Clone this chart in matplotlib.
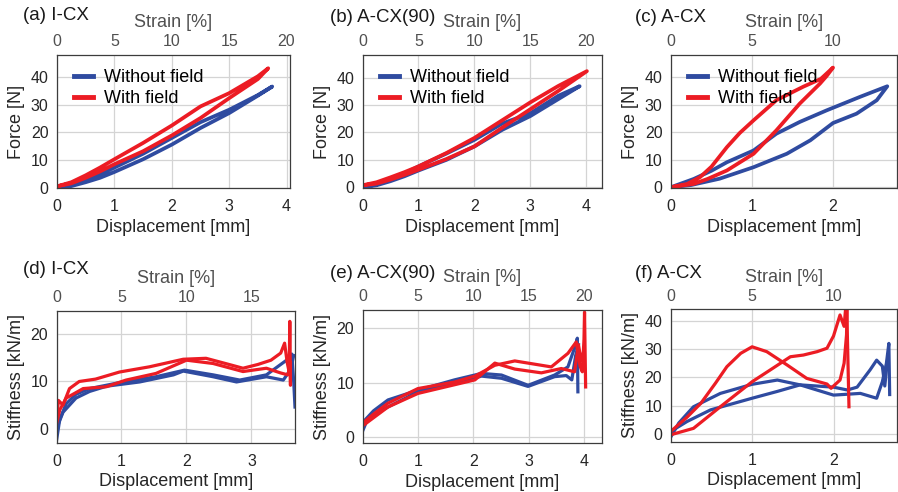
import matplotlib
matplotlib.use("Agg")
from matplotlib import pyplot as plt
import numpy as np

plt.rcParams['font.family'] = ['Liberation Sans', 'DejaVu Sans']

BLUE = '#2f4ba0'
RED = '#ec1c24'

# ---- (a) I-CX force ----
a_blue_load_x = [0, 0.25, 0.5, 0.75, 1.0, 1.5, 2.0, 2.5, 3.0, 3.5, 3.75]
a_blue_load_y = [0, 1.0, 2.8, 4.9, 7.3, 12.3, 18.0, 23.7, 28.2, 33.5, 36.6]
a_blue_unld_x = [3.75, 3.5, 3.0, 2.5, 2.0, 1.5, 1.0, 0.75, 0.5, 0.25, 0]
a_blue_unld_y = [36.6, 33.3, 27.0, 21.6, 15.6, 10.3, 5.7, 3.6, 2.0, 0.6, 0]
a_red_load_x = [0, 0.25, 0.5, 0.75, 1.0, 1.5, 2.0, 2.5, 3.0, 3.5, 3.68]
a_red_load_y = [0.5, 2.0, 4.5, 7.3, 10.3, 16.2, 22.5, 29.4, 34.2, 40.3, 43.2]
a_red_unld_x = [3.68, 3.5, 3.0, 2.5, 2.0, 1.5, 1.0, 0.75, 0.5, 0.25, 0]
a_red_unld_y = [43.2, 39.3, 32.4, 25.2, 18.9, 13.2, 8.5, 5.9, 3.6, 1.6, 0.5]

# ---- (b) A-CX(90) force ----
b_blue_load_x = [0, 0.25, 0.5, 0.75, 1.0, 1.5, 2.0, 2.5, 3.0, 3.5, 3.88]
b_blue_load_y = [0, 1.0, 2.8, 5.0, 7.6, 12.3, 17.3, 23.3, 27.0, 33.4, 36.9]
b_blue_unld_x = [3.88, 3.5, 3.0, 2.5, 2.0, 1.5, 1.0, 0.75, 0.5, 0.25, 0]
b_blue_unld_y = [36.9, 32.2, 26.0, 21.0, 14.9, 10.0, 6.1, 4.0, 2.2, 0.7, 0]
b_red_load_x = [0, 0.25, 0.5, 0.75, 1.0, 1.5, 2.0, 2.5, 3.0, 3.5, 4.01]
b_red_load_y = [0.7, 1.8, 3.6, 5.5, 7.6, 12.5, 18.0, 24.5, 31.0, 37.0, 42.4]
b_red_unld_x = [4.01, 3.5, 3.0, 2.5, 2.0, 1.5, 1.0, 0.75, 0.5, 0.25, 0]
b_red_unld_y = [42.4, 35.2, 28.5, 21.8, 14.9, 10.3, 6.4, 4.5, 2.8, 1.3, 0.7]

# ---- (c) A-CX force ----
c_blue_load_x = [0, 0.28, 0.5, 0.69, 1.02, 1.3, 1.59, 1.92, 2.33, 2.67]
c_blue_load_y = [0, 3.0, 6.0, 9.1, 13.4, 19.5, 23.8, 28.0, 32.9, 36.8]
c_blue_unld_x = [2.67, 2.54, 2.29, 2.0, 1.72, 1.43, 1.02, 0.6, 0.25, 0]
c_blue_unld_y = [36.8, 31.7, 26.8, 23.4, 17.1, 12.2, 7.3, 3.1, 0.8, 0]
c_red_load_x = [0, 0.2, 0.36, 0.5, 0.69, 0.85, 1.02, 1.3, 1.63, 1.85, 2.0]
c_red_load_y = [0, 1.2, 3.7, 7.5, 14.6, 19.8, 24.4, 31.7, 36.6, 39.5, 43.6]
c_red_unld_x = [2.0, 1.92, 1.84, 1.59, 1.3, 1.02, 0.69, 0.45, 0.28, 0]
c_red_unld_y = [43.6, 40.5, 37.8, 30.5, 20.7, 12.2, 6.1, 3.0, 1.2, 0]

# ---- (d) I-CX stiffness ----
d_red1_x = [0, 0.03, 0.1, 0.2, 0.35, 0.6, 0.97, 1.43, 1.95, 2.3, 2.6, 2.87, 3.1, 3.3, 3.45, 3.51, 3.55, 3.58, 3.59, 3.6, 3.6]
d_red1_y = [2, 6, 5, 8.5, 10, 10.5, 12, 13.1, 14.7, 14.9, 13.8, 12.8, 13.6, 14.5, 16, 18.1, 14, 12, 22.7, 9.2, 14]
d_red2_x = [0, 0.05, 0.15, 0.41, 0.77, 1.07, 1.53, 2.0, 2.41, 2.87, 3.23, 3.45, 3.56, 3.59]
d_red2_y = [1, 4, 6.5, 8.5, 8.9, 10.3, 11.7, 14.5, 13.8, 12.1, 12.8, 11.8, 11.4, 13]
d_blue1_x = [0, 0.05, 0.15, 0.3, 0.51, 1.02, 1.53, 1.97, 2.41, 2.82, 3.23, 3.54, 3.62, 3.65, 3.67]
d_blue1_y = [-2.5, 2, 5.3, 7.3, 8.5, 9.9, 11.0, 12.4, 11.4, 10.3, 11.4, 14.5, 15.8, 10, 4.6]
d_blue2_x = [0, 0.1, 0.3, 0.51, 0.77, 1.28, 1.8, 1.95, 2.41, 2.77, 3.23, 3.49, 3.6, 3.65]
d_blue2_y = [0, 3.5, 6.5, 7.9, 9.0, 9.9, 11.4, 12.2, 11.0, 9.9, 11.0, 10.3, 12.5, 15.5]

# ---- (e) A-CX(90) stiffness ----
e_red1_x = [0, 0.2, 0.46, 1.0, 1.66, 2.03, 2.39, 2.75, 3.05, 3.41, 3.71, 3.86, 3.93, 3.97, 4.0, 4.01, 4.03]
e_red1_y = [2.5, 4.2, 6.2, 8.9, 10.1, 11.2, 13.2, 14.0, 13.5, 12.9, 15.4, 17.5, 13, 12, 18, 23, 9.2]
e_red2_x = [0, 0.46, 1.0, 1.66, 2.03, 2.39, 2.75, 3.23, 3.59, 3.83, 3.9, 3.95, 4.0]
e_red2_y = [2.0, 5.5, 8.0, 9.6, 10.5, 13.6, 12.5, 11.8, 12.6, 12.0, 17, 14, 16]
e_blue1_x = [0, 0.2, 0.46, 1.0, 1.66, 2.15, 2.51, 2.99, 3.47, 3.71, 3.85, 3.88, 3.89]
e_blue1_y = [2.6, 4.8, 6.8, 8.6, 10.5, 11.7, 11.4, 9.5, 11.4, 12.9, 17, 18.2, 8.3]
e_blue2_x = [0, 0.1, 0.46, 1.0, 1.66, 2.15, 2.51, 2.99, 3.47, 3.68, 3.78, 3.85, 3.9]
e_blue2_y = [1.0, 3.5, 5.5, 8.3, 9.8, 11.2, 10.8, 9.3, 11.1, 11.3, 10.5, 15, 17]

# ---- (f) A-CX stiffness ----
f_red1_x = [0.02, 0.2, 0.37, 0.55, 0.69, 0.86, 1.0, 1.18, 1.43, 1.67, 1.92, 1.97, 2.08, 2.13, 2.16, 2.17]
f_red1_y = [1.5, 6, 10.9, 18, 23.8, 28.5, 30.8, 29.1, 24.4, 19.7, 17.7, 16.2, 19.1, 25, 35, 48]
f_red2_x = [0.02, 0.28, 0.61, 1.0, 1.22, 1.47, 1.63, 1.8, 1.92, 2.0, 2.08, 2.13, 2.16, 2.19]
f_red2_y = [0, 2.1, 9.7, 18.5, 22.6, 27.3, 27.9, 29.1, 30.3, 34.6, 42, 38, 48, 9.7]
f_blue1_x = [0.0, 0.1, 0.28, 0.61, 1.0, 1.31, 1.59, 2.0, 2.33, 2.53, 2.6, 2.65, 2.68, 2.69]
f_blue1_y = [-1, 4, 9.7, 14.4, 17.6, 19.1, 17.4, 13.8, 14.4, 12.7, 18.5, 25, 32, 14]
f_blue2_x = [0.0, 0.2, 0.49, 1.0, 1.31, 1.59, 2.0, 2.17, 2.29, 2.45, 2.53, 2.6, 2.63, 2.67]
f_blue2_y = [1, 4.5, 8.6, 12.7, 15.1, 17.4, 16.6, 15.6, 16.6, 22.7, 26.1, 24, 17, 28]

W, H = 898, 492


def make_ax(fig, left, top, right, bottom):
    # pixel box -> figure fraction
    return fig.add_axes([left / W, 1 - bottom / H, (right - left) / W, (bottom - top) / H])


def style(ax, xlim, ylim, yticks, ylabel, title, title_xy):
    ax.set_xlim(*xlim)
    ax.set_ylim(*ylim)
    ax.set_xticks(np.arange(0, int(xlim[1]) + 1))
    ax.set_yticks(yticks)
    ax.grid(True, color='#d4d4d4', lw=0.9)
    ax.set_axisbelow(True)
    for s in ax.spines.values():
        s.set_color('#3c3c3c')
        s.set_linewidth(0.9)
    ax.tick_params(length=0, labelsize=11.5, colors='#262626', pad=6)
    ax.tick_params(axis='x', pad=8)
    ax.set_xlabel('Displacement [mm]', fontsize=13, color='#262626', labelpad=3)
    ax.set_ylabel(ylabel, fontsize=13, color='#262626', labelpad=4)
    sec = ax.secondary_xaxis('top', functions=(lambda d: d * 5, lambda s: s / 5))
    sec.set_xticks(np.arange(0, xlim[1] * 5 + 0.01, 5))
    sec.tick_params(length=0, labelsize=11.5, colors='#505050', pad=4)
    sec.spines['top'].set_visible(False)
    sec.set_xlabel('Strain [%]', fontsize=13, color='#505050', labelpad=5)
    ax.figure.text(title_xy[0] / W, 1 - title_xy[1] / H, title, fontsize=13.5,
                   color='#1a1a1a', ha='left', va='center')


def loop(ax, lx, ly, ux, uy, color, label):
    ax.plot(lx + ux, ly + uy, color=color, lw=2.7, label=label, solid_joinstyle='round')


fig = plt.figure(figsize=(8.98, 4.92), dpi=100)

ax_a = make_ax(fig, 57, 55, 290, 188.3)
loop(ax_a, a_blue_load_x, a_blue_load_y, a_blue_unld_x, a_blue_unld_y, BLUE, 'Without field')
loop(ax_a, a_red_load_x, a_red_load_y, a_red_unld_x, a_red_unld_y, RED, 'With field')
style(ax_a, (0, 4.06), (-0.2, 48), [0, 10, 20, 30, 40], 'Force [N]', '(a) I-CX', (23, 16))

ax_b = make_ax(fig, 362.5, 55, 602, 188.3)
loop(ax_b, b_blue_load_x, b_blue_load_y, b_blue_unld_x, b_blue_unld_y, BLUE, 'Without field')
loop(ax_b, b_red_load_x, b_red_load_y, b_red_unld_x, b_red_unld_y, RED, 'With field')
style(ax_b, (0, 4.28), (-0.4, 48.3), [0, 10, 20, 30, 40], 'Force [N]', '(b) A-CX(90)', (330, 17))

ax_c = make_ax(fig, 671, 55, 897, 188.3)
loop(ax_c, c_blue_load_x, c_blue_load_y, c_blue_unld_x, c_blue_unld_y, BLUE, 'Without field')
loop(ax_c, c_red_load_x, c_red_load_y, c_red_unld_x, c_red_unld_y, RED, 'With field')
style(ax_c, (0, 2.79), (-0.4, 48.2), [0, 10, 20, 30, 40], 'Force [N]', '(c) A-CX', (635, 17))

for ax in (ax_a, ax_b, ax_c):
    ax.legend(loc='upper left', frameon=False, fontsize=13, handlelength=1.05,
              handletextpad=0.6, labelspacing=0.25, borderaxespad=0.3,
              bbox_to_anchor=(0.02, 0.99))
    for ln in ax.get_legend().get_lines():
        ln.set_linewidth(3.5)

ax_d = make_ax(fig, 56.5, 310.5, 295, 443)
ax_d.plot(d_blue1_x, d_blue1_y, color=BLUE, lw=2.3)
ax_d.plot(d_blue2_x, d_blue2_y, color=BLUE, lw=2.3)
ax_d.plot(d_red1_x, d_red1_y, color=RED, lw=2.3)
ax_d.plot(d_red2_x, d_red2_y, color=RED, lw=2.3)
style(ax_d, (0, 3.67), (-3, 25), [0, 10, 20], 'Stiffness [kN/m]', '(d) I-CX', (23, 270))

ax_e = make_ax(fig, 362.5, 310, 601.7, 443.3)
ax_e.plot(e_blue1_x, e_blue1_y, color=BLUE, lw=2.3)
ax_e.plot(e_blue2_x, e_blue2_y, color=BLUE, lw=2.3)
ax_e.plot(e_red1_x, e_red1_y, color=RED, lw=2.3)
ax_e.plot(e_red2_x, e_red2_y, color=RED, lw=2.3)
style(ax_e, (0, 4.32), (-1.2, 23.4), [0, 10, 20], 'Stiffness [kN/m]', '(e) A-CX(90)', (330, 274))

ax_f = make_ax(fig, 670.7, 309.3, 897, 441.7)
ax_f.plot(f_blue1_x, f_blue1_y, color=BLUE, lw=2.3)
ax_f.plot(f_blue2_x, f_blue2_y, color=BLUE, lw=2.3)
ax_f.plot(f_red1_x, f_red1_y, color=RED, lw=2.3)
ax_f.plot(f_red2_x, f_red2_y, color=RED, lw=2.3)
style(ax_f, (0, 2.78), (-2.6, 44), [0, 10, 20, 30, 40], 'Stiffness [kN/m]', '(f) A-CX', (635, 273))

fig.savefig('out.png', dpi=100)
